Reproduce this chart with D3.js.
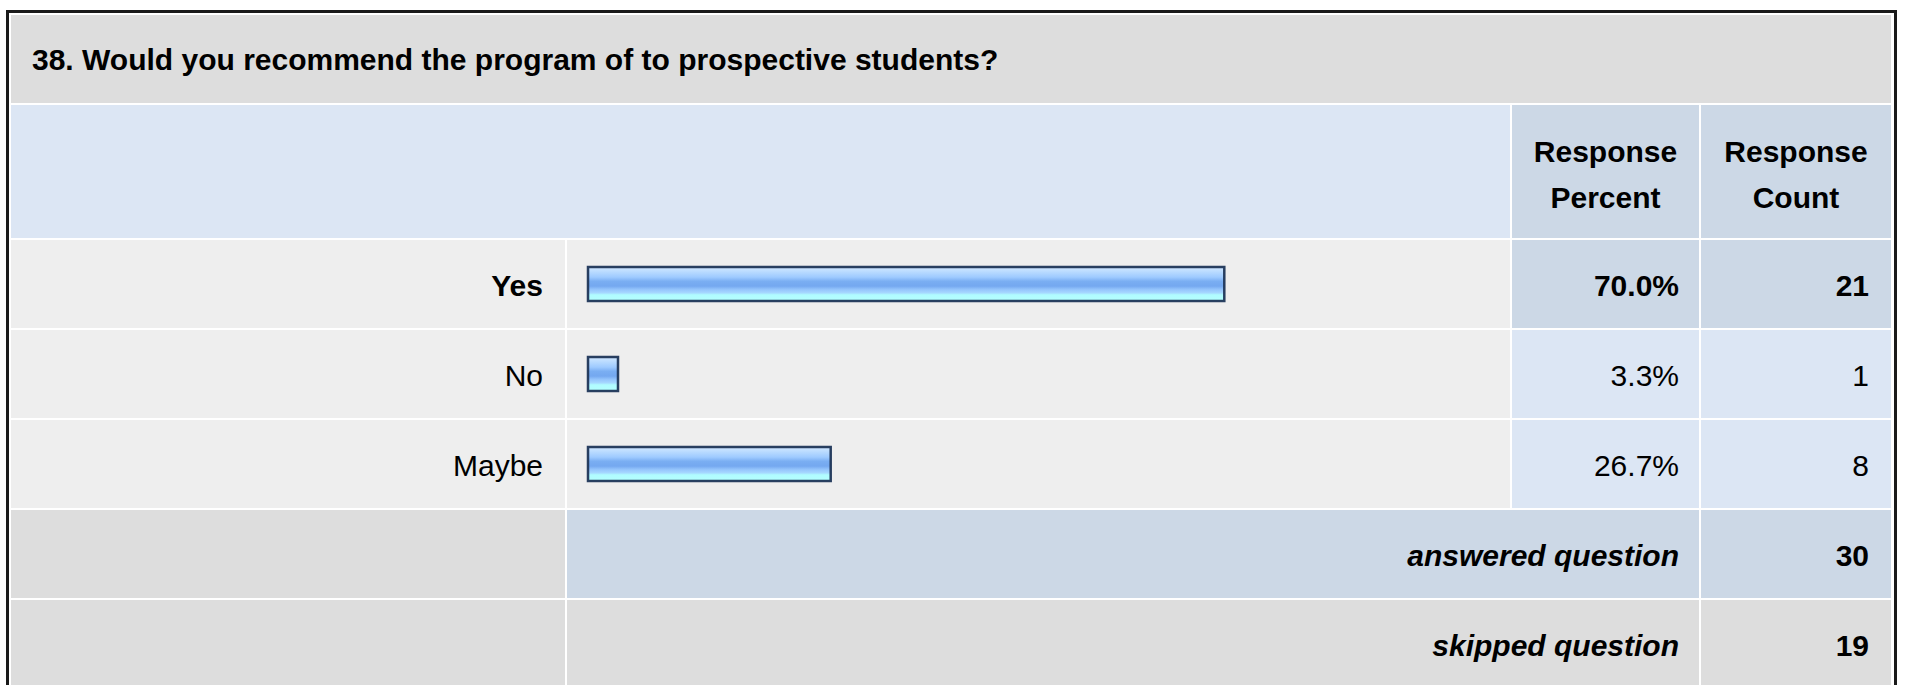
<!DOCTYPE html>
<html>
<head>
<meta charset="utf-8">
<script src="https://cdn.jsdelivr.net/npm/d3@7"></script>
<style>
  body { margin: 0; background: #fff; }
  svg text { font-family: Arial, "Liberation Sans", sans-serif; font-size: 30px; fill: #000; }
</style>
</head>
<body>
<svg width="1907" height="685"></svg>
<script>
var title = "38. Would you recommend the program of to prospective students?";
var answers = ["Yes", "No", "Maybe"];
var percents = [70.0, 3.3, 26.7];
var counts = [21, 1, 8];
var headPercent = ["Response", "Percent"];
var headCount = ["Response", "Count"];
var footLabels = ["answered question", "skipped question"];
var footCounts = [30, 19];

var svg = d3.select("svg");

var GRAY = "#dddddd", LIGHT = "#eeeeee", BLUE = "#dce6f4", BLUE2 = "#ccd8e6";

// column edges
var colLabel = [11, 565], colBar = [567, 1510], colPct = [1512, 1699], colCnt = [1701, 1891];

// rows of answers
var y = d3.scaleBand().domain(answers).range([239, 509]);
var x = d3.scaleLinear().domain([0, 100]).range([0, 909]);
var maxPct = d3.max(percents);

// gradient for the bars
var grad = svg.append("defs").append("linearGradient")
    .attr("id", "barGrad").attr("x1", 0).attr("y1", 0).attr("x2", 0).attr("y2", 1);
[[0, "#d2e8ff"], [0.16, "#b6d9ff"], [0.3, "#9ecaff"], [0.42, "#7aaef2"], [0.56, "#74a8f0"],
 [0.66, "#94c4fc"], [0.76, "#a6d8ff"], [0.82, "#b0fcff"], [1, "#b4ffff"]].forEach(function(s) {
  grad.append("stop").attr("offset", s[0]).attr("stop-color", s[1]);
});

// outer frame
svg.append("rect").attr("x", 7.5).attr("y", 11.5).attr("width", 1888).attr("height", 690)
    .attr("fill", "#fff").attr("stroke", "#1a1a1a").attr("stroke-width", 3);

function cell(x0, x1, y0, y1, color) {
  svg.append("rect").attr("x", x0).attr("y", y0).attr("width", x1 - x0).attr("height", y1 - y0)
      .attr("fill", color);
}

// title row
cell(11, 1891, 15, 103, GRAY);
svg.append("text").attr("x", 32).attr("y", 70).attr("font-weight", "bold").text(title);

// header row
cell(colLabel[0], colBar[1], 105, 238, BLUE);
cell(colPct[0], colPct[1], 105, 238, BLUE2);
cell(colCnt[0], colCnt[1], 105, 238, BLUE2);
[[colPct, headPercent], [colCnt, headCount]].forEach(function(h) {
  var t = svg.append("text").attr("text-anchor", "middle").attr("font-weight", "bold");
  h[1].forEach(function(line, i) {
    t.append("tspan").attr("x", (h[0][0] + h[0][1]) / 2).attr("y", 162 + i * 46).text(line);
  });
});

// answer rows
answers.forEach(function(a, i) {
  var y0 = y(a) + 1, y1 = y(a) + y.bandwidth() - 1, cy = y(a) + y.bandwidth() / 2;
  var top = percents[i] === maxPct;
  var weight = top ? "bold" : "normal";
  cell(colLabel[0], colLabel[1], y0, y1, LIGHT);
  cell(colBar[0], colBar[1], y0, y1, LIGHT);
  cell(colPct[0], colPct[1], y0, y1, top ? BLUE2 : BLUE);
  cell(colCnt[0], colCnt[1], y0, y1, top ? BLUE2 : BLUE);

  svg.append("text").attr("x", colLabel[1] - 22).attr("y", cy + 12)
      .attr("text-anchor", "end").attr("font-weight", weight).text(a);

  svg.append("rect")
      .attr("x", 588).attr("y", cy - 17)
      .attr("width", x(percents[i])).attr("height", 34)
      .attr("fill", "url(#barGrad)")
      .attr("stroke", "#1d3557").attr("stroke-width", 2.5)
      .attr("stroke-opacity", 0.95);

  svg.append("text").attr("x", colPct[1] - 20).attr("y", cy + 12)
      .attr("text-anchor", "end").attr("font-weight", weight).text(percents[i].toFixed(1) + "%");
  svg.append("text").attr("x", colCnt[1] - 22).attr("y", cy + 12)
      .attr("text-anchor", "end").attr("font-weight", weight).text(counts[i]);
});

// footer rows
footLabels.forEach(function(f, i) {
  var y0 = 510 + i * 90, y1 = y0 + 88, cy = y0 + 44;
  var mid = i === 0 ? BLUE2 : GRAY;
  cell(colLabel[0], colLabel[1], y0, y1, GRAY);
  cell(colBar[0], colPct[1], y0, y1, mid);
  cell(colCnt[0], colCnt[1], y0, y1, mid);
  svg.append("text").attr("x", colPct[1] - 20).attr("y", cy + 12)
      .attr("text-anchor", "end").attr("font-weight", "bold").attr("font-style", "italic").text(f);
  svg.append("text").attr("x", colCnt[1] - 22).attr("y", cy + 12)
      .attr("text-anchor", "end").attr("font-weight", "bold").text(footCounts[i]);
});
</script>
</body>
</html>
